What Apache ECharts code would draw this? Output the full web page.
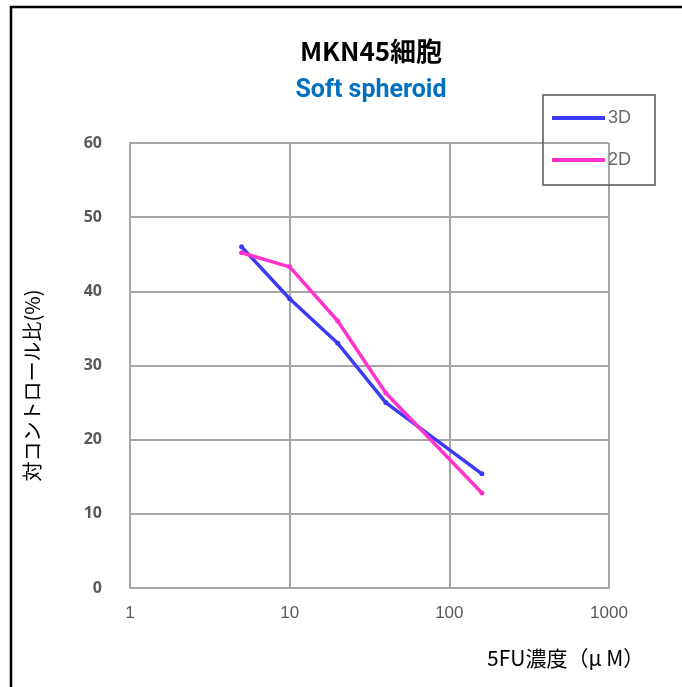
<!DOCTYPE html>
<html>
<head>
<meta charset="utf-8">
<script src="https://cdn.jsdelivr.net/npm/echarts@6/dist/echarts.min.js"></script>
<style>
  html, body { margin: 0; padding: 0; background: #fff; }
  #chart { width: 682px; height: 687px; }
</style>
</head>
<body>
<div id="chart"></div>
<script>
// 5FU concentration (uM) and ratio to control (%)
const conc = [5, 10, 20, 40, 160];
const spheroid3D = [46, 39, 33, 25, 15.4];
const mono2D = [45.2, 43.3, 36, 26.3, 12.8];
const seriesNames = ['3D', '2D'];

const pairs = (xs, ys) => xs.map((x, i) => [x, ys[i]]);

const myChart = echarts.init(document.getElementById('chart'));

const option = {
  backgroundColor: '#fff',
  animation: false,
  title: {
    text: 'MKN45細胞',
    subtext: 'Soft spheroid',
    left: 366,
    top: 33,
    textAlign: 'center',
    itemGap: 14,
    textStyle: {
      fontFamily: 'Noto Sans CJK JP',
      fontSize: 26,
      fontWeight: 'bold',
      color: '#000'
    },
    subtextStyle: {
      fontFamily: 'Roboto',
      fontSize: 25,
      fontWeight: 'bold',
      color: '#0070c0'
    }
  },
  legend: {
    orient: 'vertical',
    left: 543,
    top: 95,
    padding: [13, 24, 15, 9],
    itemGap: 22,
    itemWidth: 53,
    itemHeight: 4,
    icon: 'rect',
    borderColor: '#555',
    borderWidth: 1.5,
    data: seriesNames,
    textStyle: {
      fontFamily: 'Liberation Sans',
      fontSize: 18,
      lineHeight: 20,
      color: '#6b6b6b',
      padding: [0, 0, 0, -2]
    }
  },
  grid: {
    left: 130,
    right: 73,
    top: 143,
    bottom: 99
  },
  xAxis: {
    type: 'log',
    logBase: 10,
    min: 1,
    max: 1000,
    axisLine: { lineStyle: { color: '#a6a6a6', width: 2 } },
    axisTick: { show: false },
    axisLabel: {
      margin: 17,
      fontFamily: 'Liberation Sans',
      fontSize: 17,
      color: '#595959',
      formatter: v => String(Math.round(v))
    },
    splitLine: { show: true, lineStyle: { color: '#a6a6a6', width: 2 } }
  },
  yAxis: {
    type: 'value',
    min: 0,
    max: 60,
    interval: 10,
    name: '対コントロール比(%)',
    nameLocation: 'middle',
    nameRotate: 90,
    nameGap: 88,
    nameTextStyle: {
      fontFamily: 'Noto Sans CJK JP',
      fontSize: 20,
      color: '#000',
      padding: [0, 40, 0, 0]
    },
    axisLine: { show: true, lineStyle: { color: '#a6a6a6', width: 2 } },
    axisTick: { show: false },
    axisLabel: {
      margin: 28,
      fontFamily: 'Open Sans',
      fontSize: 16,
      fontWeight: 'bold',
      color: '#595959'
    },
    splitLine: { show: true, lineStyle: { color: '#a6a6a6', width: 2 } }
  },
  graphic: [
    {
      type: 'rect',
      shape: { x: 11, y: 7, width: 720, height: 720 },
      style: { fill: 'none', stroke: '#000', lineWidth: 2.5 },
      silent: true
    },
    {
      type: 'text',
      left: 487,
      top: 648,
      style: {
        text: '5FU濃度（μ M）',
        font: '21px "Noto Sans CJK JP"',
        fill: '#000'
      }
    }
  ],
  series: [
    {
      name: seriesNames[0],
      type: 'line',
      data: pairs(conc, spheroid3D),
      symbol: 'circle',
      symbolSize: 5,
      lineStyle: { color: '#3b3bf5', width: 3.5 },
      itemStyle: { color: '#3b3bf5' }
    },
    {
      name: seriesNames[1],
      type: 'line',
      data: pairs(conc, mono2D),
      symbol: 'circle',
      symbolSize: 5,
      lineStyle: { color: '#ff33cc', width: 3.5 },
      itemStyle: { color: '#ff33cc' }
    }
  ]
};

myChart.setOption(option);
</script>
</body>
</html>
